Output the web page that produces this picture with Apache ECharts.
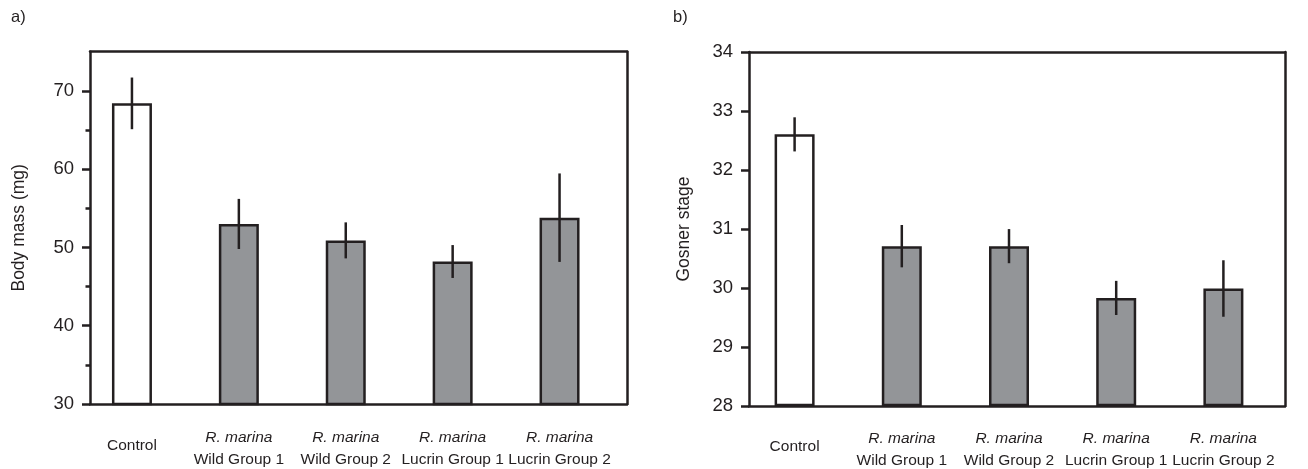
<!DOCTYPE html>
<html>
<head>
<meta charset="utf-8">
<script src="https://cdn.jsdelivr.net/npm/echarts@6/dist/echarts.min.js"></script>
<style>
html,body{margin:0;padding:0;background:#fff;}
#chart{width:1308px;height:469px;}
</style>
</head>
<body>
<div id="chart"></div>
<script>
// ---- data ----
const groupLabels = ['Control', 'Wild Group 1', 'Wild Group 2', 'Lucrin Group 1', 'Lucrin Group 2'];
const speciesLabels = ['', 'R. marina', 'R. marina', 'R. marina', 'R. marina'];
const massMean = [68.4, 53.0, 50.9, 48.2, 53.8];
const massErr = [3.3, 3.2, 2.3, 2.1, 5.65];
const stageMean = [32.6, 30.7, 30.7, 29.82, 29.98];
const stageErr = [0.29, 0.36, 0.29, 0.29, 0.48];
const massTicks = [30, 40, 50, 60, 70];
const massMinorTicks = [35, 45, 55, 65];
const stageTicks = [28, 29, 30, 31, 32, 33, 34];

// ---- style ----
const INK = '#231f20';
const GREY = '#939598';
const FONT = '"Liberation Sans", Arial, Helvetica, sans-serif';
const LW = 2.5;

const chart = echarts.init(document.getElementById('chart'), null, {renderer: 'canvas'});

function labelFormatter(value, idx) {
  const sp = speciesLabels[idx];
  return sp ? '{i|' + sp + '}\n{n|' + value + '}' : '{c|' + value + '}';
}
const rich = {
  i: {fontStyle: 'italic', fontSize: 15.5, lineHeight: 22, color: INK, fontFamily: FONT},
  n: {fontSize: 15.5, lineHeight: 22, color: INK, fontFamily: FONT},
  c: {fontSize: 15.5, lineHeight: 38, color: INK, fontFamily: FONT}
};

function panel(frameGrid, barGrid, yMin, yMax, ticks, minorTicks, name, nameGap, means, errs) {
  return {frameGrid, barGrid, yMin, yMax, ticks, minorTicks, name, nameGap, means, errs};
}
const panels = [
  panel({left: 90, right: 681, top: 51.7, bottom: 65}, {left: 78.5, right: 695, top: 51.7, bottom: 65},
        30, 75, massTicks, massMinorTicks, 'Body mass (mg)', 62, massMean, massErr),
  panel({left: 749, right: 23, top: 52, bottom: 63}, {left: 741, right: 31, top: 52, bottom: 63},
        28, 34, stageTicks, null, 'Gosner stage', 56, stageMean, stageErr)
];

const grid = [], xAxis = [], yAxis = [], series = [];
panels.forEach((p, k) => {
  const gF = grid.length; grid.push(p.frameGrid);
  const gB = grid.length; grid.push(p.barGrid);
  const frameLine = {show: true, onZero: false, lineStyle: {color: INK, width: LW}};
  ['bottom', 'top'].forEach(pos => {
    xAxis.push({gridIndex: gF, type: 'value', position: pos, min: 0, max: 1, z: 10,
      axisLine: frameLine, axisTick: {show: false}, axisLabel: {show: false}, splitLine: {show: false}});
  });
  yAxis.push({gridIndex: gF, type: 'value', position: 'left', min: p.yMin, max: p.yMax, z: 10,
    axisLine: frameLine,
    axisTick: {show: true, inside: false, length: 8, customValues: p.ticks, lineStyle: {color: INK, width: LW}},
    axisLabel: {show: true, customValues: p.ticks, margin: 16, fontSize: 18.5, color: INK, fontFamily: FONT},
    splitLine: {show: false},
    name: p.name, nameLocation: 'middle', nameGap: p.nameGap,
    nameTextStyle: {fontSize: 17.5, color: INK, fontFamily: FONT}
  });
  if (p.minorTicks) {
    yAxis.push({gridIndex: gF, type: 'value', position: 'left', min: p.yMin, max: p.yMax, z: 10,
      axisLine: {show: false, onZero: false},
      axisTick: {show: true, inside: false, length: 4.5, customValues: p.minorTicks, lineStyle: {color: INK, width: LW}},
      axisLabel: {show: false}, splitLine: {show: false}});
  }
  yAxis.push({gridIndex: gF, type: 'value', position: 'right', min: p.yMin, max: p.yMax, z: 10,
    axisLine: frameLine, axisTick: {show: false}, axisLabel: {show: false}, splitLine: {show: false}});
  const xi = xAxis.length;
  xAxis.push({gridIndex: gB, type: 'category', data: groupLabels, position: 'bottom',
    axisLine: {show: false}, axisTick: {show: false}, splitLine: {show: false},
    axisLabel: {interval: 0, margin: 23, formatter: labelFormatter, rich: rich, color: INK, fontFamily: FONT}});
  const yi = yAxis.length;
  yAxis.push({gridIndex: gB, type: 'value', min: p.yMin, max: p.yMax, show: false, splitLine: {show: false}});

  series.push({
    type: 'bar', xAxisIndex: xi, yAxisIndex: yi, barWidth: 40, clip: true, z: 2,
    itemStyle: {color: GREY, borderColor: INK, borderWidth: LW},
    data: p.means.map((v, i) => i === 0 ? {value: v, itemStyle: {color: '#ffffff'}} : v),
    emphasis: {disabled: true}, silent: true
  });
  series.push({
    type: 'custom', xAxisIndex: xi, yAxisIndex: yi, z: 5, silent: true,
    data: p.means.map((m, i) => [i, m - p.errs[i], m + p.errs[i]]),
    renderItem: function (params, api) {
      const lo = api.coord([api.value(0), api.value(1)]);
      const hi = api.coord([api.value(0), api.value(2)]);
      return {type: 'line', shape: {x1: lo[0], y1: lo[1], x2: hi[0], y2: hi[1]},
        style: {stroke: INK, lineWidth: LW}};
    }
  });
});

chart.setOption({
  animation: false,
  backgroundColor: '#ffffff',
  textStyle: {fontFamily: FONT},
  title: [
    {text: 'a)', left: 11, top: 9, padding: 0, textStyle: {fontSize: 16.5, fontWeight: 'normal', color: INK, fontFamily: FONT}},
    {text: 'b)', left: 673, top: 9, padding: 0, textStyle: {fontSize: 16.5, fontWeight: 'normal', color: INK, fontFamily: FONT}}
  ],
  grid: grid,
  xAxis: xAxis,
  yAxis: yAxis,
  series: series
});
</script>
</body>
</html>
